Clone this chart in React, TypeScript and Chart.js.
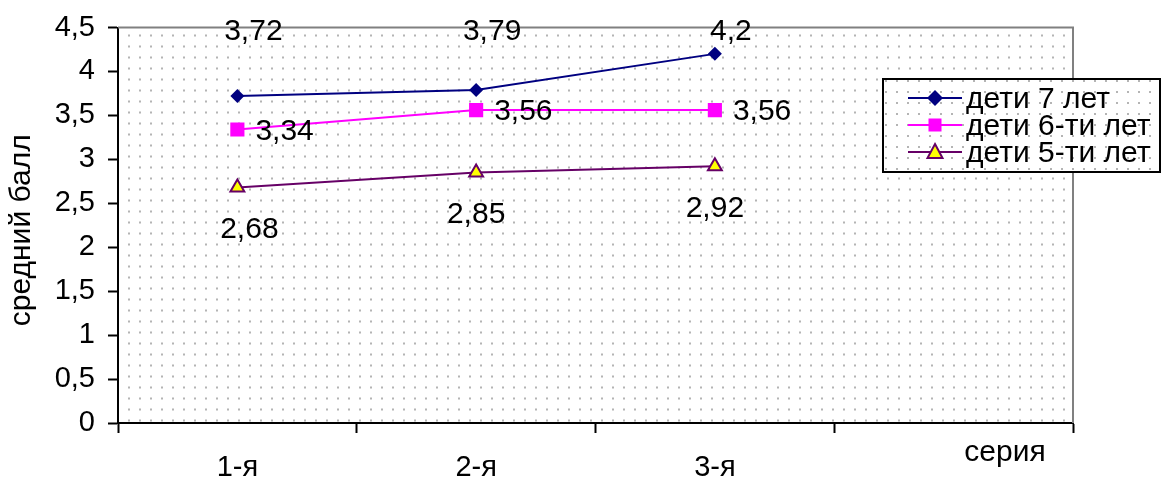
import React, { useEffect, useRef } from "react";
import { Chart, registerables } from "chart.js";

Chart.register(...registerables);

const categories = ["1-я", "2-я", "3-я", ""];
const seriesNames = ["дети 7 лет", "дети 6-ти лет", "дети 5-ти лет"];
const kids7 = [3.72, 3.79, 4.2];
const kids6 = [3.34, 3.56, 3.56];
const kids5 = [2.68, 2.85, 2.92];
const yTitle = "средний балл";
const xTitle = "серия";

const FONT = "'Liberation Sans', Arial, sans-serif";
const fmt = (v: number) => String(v).replace(".", ",");

function makePattern(ctx: CanvasRenderingContext2D) {
  const c = document.createElement("canvas");
  c.width = 11;
  c.height = 11;
  const p = c.getContext("2d")!;
  p.fillStyle = "#ffffff";
  p.fillRect(0, 0, 11, 11);
  p.fillStyle = "#b4b4b4";
  p.fillRect(0, 0, 2, 2);
  return ctx.createPattern(c, "repeat")!;
}

export default function App() {
  const ref = useRef<HTMLCanvasElement>(null);
  useEffect(() => {
    document.body.style.margin = "0";
    const canvas = ref.current!;
    const ctx = canvas.getContext("2d")!;

    const bgPlugin = {
      id: "bg",
      beforeDraw(chart: any) {
        const { ctx, chartArea: a } = chart;
        ctx.save();
        ctx.fillStyle = "#fff";
        ctx.fillRect(0, 0, chart.width, chart.height);
        ctx.translate(a.left + 10, a.top + 7);
        ctx.fillStyle = makePattern(ctx);
        ctx.fillRect(-10, -7, a.right - a.left, a.bottom - a.top);
        ctx.restore();
      },
      beforeDatasetsDraw(chart: any) {
        const { ctx, chartArea: a } = chart;
        ctx.save();
        ctx.strokeStyle = "#808080";
        ctx.lineWidth = 2;
        ctx.beginPath();
        ctx.moveTo(a.left, a.top);
        ctx.lineTo(a.right, a.top);
        ctx.lineTo(a.right, a.bottom);
        ctx.stroke();
        ctx.restore();
      },
    };

    const drawMarker = (c: CanvasRenderingContext2D, kind: number, x: number, y: number) => {
      c.save();
      if (kind === 0) {
        c.fillStyle = "#000080";
        c.beginPath();
        c.moveTo(x, y - 8);
        c.lineTo(x + 8, y);
        c.lineTo(x, y + 8);
        c.lineTo(x - 8, y);
        c.closePath();
        c.fill();
      } else if (kind === 1) {
        c.fillStyle = "#ff00ff";
        c.fillRect(x - 6.5, y - 6.5, 13, 13);
      } else {
        c.fillStyle = "#ffff00";
        c.strokeStyle = "#660066";
        c.lineWidth = 2;
        c.beginPath();
        c.moveTo(x, y - 8);
        c.lineTo(x + 7.5, y + 6);
        c.lineTo(x - 7.5, y + 6);
        c.closePath();
        c.fill();
        c.stroke();
      }
      c.restore();
    };

    const textPlugin = {
      id: "texts",
      afterDraw(chart: any) {
        const { ctx, chartArea: a } = chart;
        ctx.save();
        ctx.fillStyle = "#000";
        ctx.font = `30px ${FONT}`;
        const m0 = chart.getDatasetMeta(0).data;
        const m1 = chart.getDatasetMeta(1).data;
        const m2 = chart.getDatasetMeta(2).data;
        ctx.textBaseline = "middle";
        ctx.textAlign = "center";
        kids7.forEach((v, i) => ctx.fillText(fmt(v), m0[i].x + 16, a.top + 4));
        ctx.textAlign = "left";
        kids6.forEach((v, i) => ctx.fillText(fmt(v), m1[i].x + 18, m1[i].y + 2));
        ctx.textAlign = "center";
        kids5.forEach((v, i) => ctx.fillText(fmt(v), m2[i].x + (i === 0 ? 12 : 0), m2[i].y + 42));
        // x title
        ctx.fillText(xTitle, a.right - 68, a.bottom + 30);
        // y title
        ctx.save();
        ctx.translate(22, (a.top + a.bottom) / 2 + 5);
        ctx.rotate(-Math.PI / 2);
        ctx.fillText(yTitle, 0, 0);
        ctx.restore();
        // legend
        const lx = 883, ly = 79, lw = 277, lh = 93;
        ctx.save();
        ctx.translate(5, 3);
        ctx.fillStyle = makePattern(ctx);
        ctx.fillRect(lx - 5, ly - 3, lw, lh);
        ctx.restore();
        ctx.strokeStyle = "#000";
        ctx.lineWidth = 2;
        ctx.strokeRect(lx, ly, lw, lh);
        const colors = ["#000080", "#ff00ff", "#660066"];
        seriesNames.forEach((n, i) => {
          const y = 98 + i * 27;
          ctx.strokeStyle = colors[i];
          ctx.lineWidth = 2;
          ctx.beginPath();
          ctx.moveTo(908, y);
          ctx.lineTo(962, y);
          ctx.stroke();
          drawMarker(ctx, i, 935, y);
          ctx.fillStyle = "#000";
          ctx.textAlign = "left";
          ctx.fillText(n, 966, y + 2);
        });
        ctx.restore();
      },
    };

    const chart = new Chart(ctx, {
      type: "line",
      data: {
        labels: categories,
        datasets: [
          {
            label: seriesNames[0],
            data: kids7,
            borderColor: "#000080",
            backgroundColor: "#000080",
            borderWidth: 2,
            pointStyle: "rectRot",
            pointRadius: 7,
            pointBorderWidth: 0,
          },
          {
            label: seriesNames[1],
            data: kids6,
            borderColor: "#ff00ff",
            backgroundColor: "#ff00ff",
            borderWidth: 2,
            pointStyle: "rect",
            pointRadius: 10,
            pointBorderWidth: 0,
          },
          {
            label: seriesNames[2],
            data: kids5,
            borderColor: "#660066",
            backgroundColor: "#ffff00",
            pointBorderColor: "#660066",
            borderWidth: 2,
            pointStyle: "triangle",
            pointRadius: 8,
            pointBorderWidth: 2,
          },
        ],
      },
      options: {
        animation: false,
        responsive: false,
        layout: { padding: { top: 27, right: 89, left: 0, bottom: 0 } },
        plugins: { legend: { display: false }, tooltip: { enabled: false } },
        scales: {
          x: {
            offset: true,
            grid: { drawOnChartArea: false, tickLength: 10, tickColor: "#000", tickWidth: 2, offset: true },
            border: { color: "#000", width: 2 },
            ticks: { color: "#000", padding: 18, font: { family: FONT, size: 29 }, maxRotation: 0 },
            afterFit: (s: any) => { s.height = 57; },
          },
          y: {
            min: 0,
            max: 4.5,
            grid: { drawOnChartArea: false, tickLength: 10, tickColor: "#000", tickWidth: 2 },
            border: { color: "#000", width: 2 },
            ticks: {
              stepSize: 0.5,
              color: "#000",
              padding: 13,
              font: { family: FONT, size: 29, lineHeight: 1.0 },
              callback: (v: any) => fmt(Number(v)),
            },
            afterFit: (s: any) => { s.width = 118; },
          },
        },
      },
      plugins: [bgPlugin, textPlugin],
    });
    return () => chart.destroy();
  }, []);
  return (
    <div style={{ position: "fixed", left: 0, top: 0, width: 1162, height: 480 }}>
      <canvas ref={ref} width={1162} height={480} style={{ width: 1162, height: 480 }} />
    </div>
  );
}
